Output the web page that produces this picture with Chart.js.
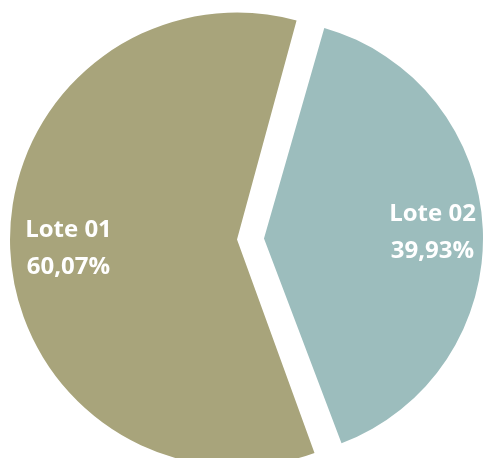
<!DOCTYPE html>
<html>
<head>
<meta charset="utf-8">
<script src="https://cdn.jsdelivr.net/npm/chart.js@4.4.0/dist/chart.umd.min.js"></script>
<style>
  body { margin: 0; background: #ffffff; }
  #wrap { width: 484px; height: 458px; position: relative; }
</style>
</head>
<body>
<div id="wrap"><canvas id="pieChart"></canvas></div>
<script>
let categories = ["Lote 01", "Lote 02"];
let values = [60.07, 39.93];
let sliceColors = ["#a8a47b", "#9cbdbd"];

function formatPercent(v) {
  return v.toFixed(2).replace(".", ",") + "%";
}

// draws the two-line label inside each slice
const sliceLabels = {
  id: "sliceLabels",
  afterDatasetsDraw(chart) {
    let ctx = chart.ctx;
    let meta = chart.getDatasetMeta(0);
    ctx.save();
    ctx.font = "bold 24px 'Open Sans'";
    ctx.fillStyle = "#ffffff";
    ctx.textAlign = "center";
    ctx.textBaseline = "alphabetic";
    meta.data.forEach(function (arc, i) {
      let mid = (arc.startAngle + arc.endAngle) / 2;
      let shift = (arc.options.offset || 0) / 4;
      let dist = shift + arc.outerRadius * 0.79;
      let x = arc.x + Math.cos(mid) * dist;
      let y = arc.y + Math.sin(mid) * dist;
      ctx.fillText(categories[i], x, y - 10);
      ctx.fillText(formatPercent(values[i]), x, y + 27);
    });
    ctx.restore();
  }
};

document.addEventListener("DOMContentLoaded", function () {
  let ctx = document.getElementById("pieChart").getContext("2d");
  window.myChart = new Chart(ctx, {
    type: "pie",
    data: {
      labels: categories,
      datasets: [{
        data: values,
        backgroundColor: sliceColors,
        borderWidth: 0,
        offset: 54
      }]
    },
    options: {
      responsive: true,
      maintainAspectRatio: false,
      animation: false,
      rotation: 159.5,
      radius: 213.5,
      layout: { padding: { left: 17, top: 20, right: 0, bottom: 0 } },
      plugins: {
        legend: { display: false },
        tooltip: { enabled: false }
      }
    },
    plugins: [sliceLabels]
  });
});
</script>
</body>
</html>
